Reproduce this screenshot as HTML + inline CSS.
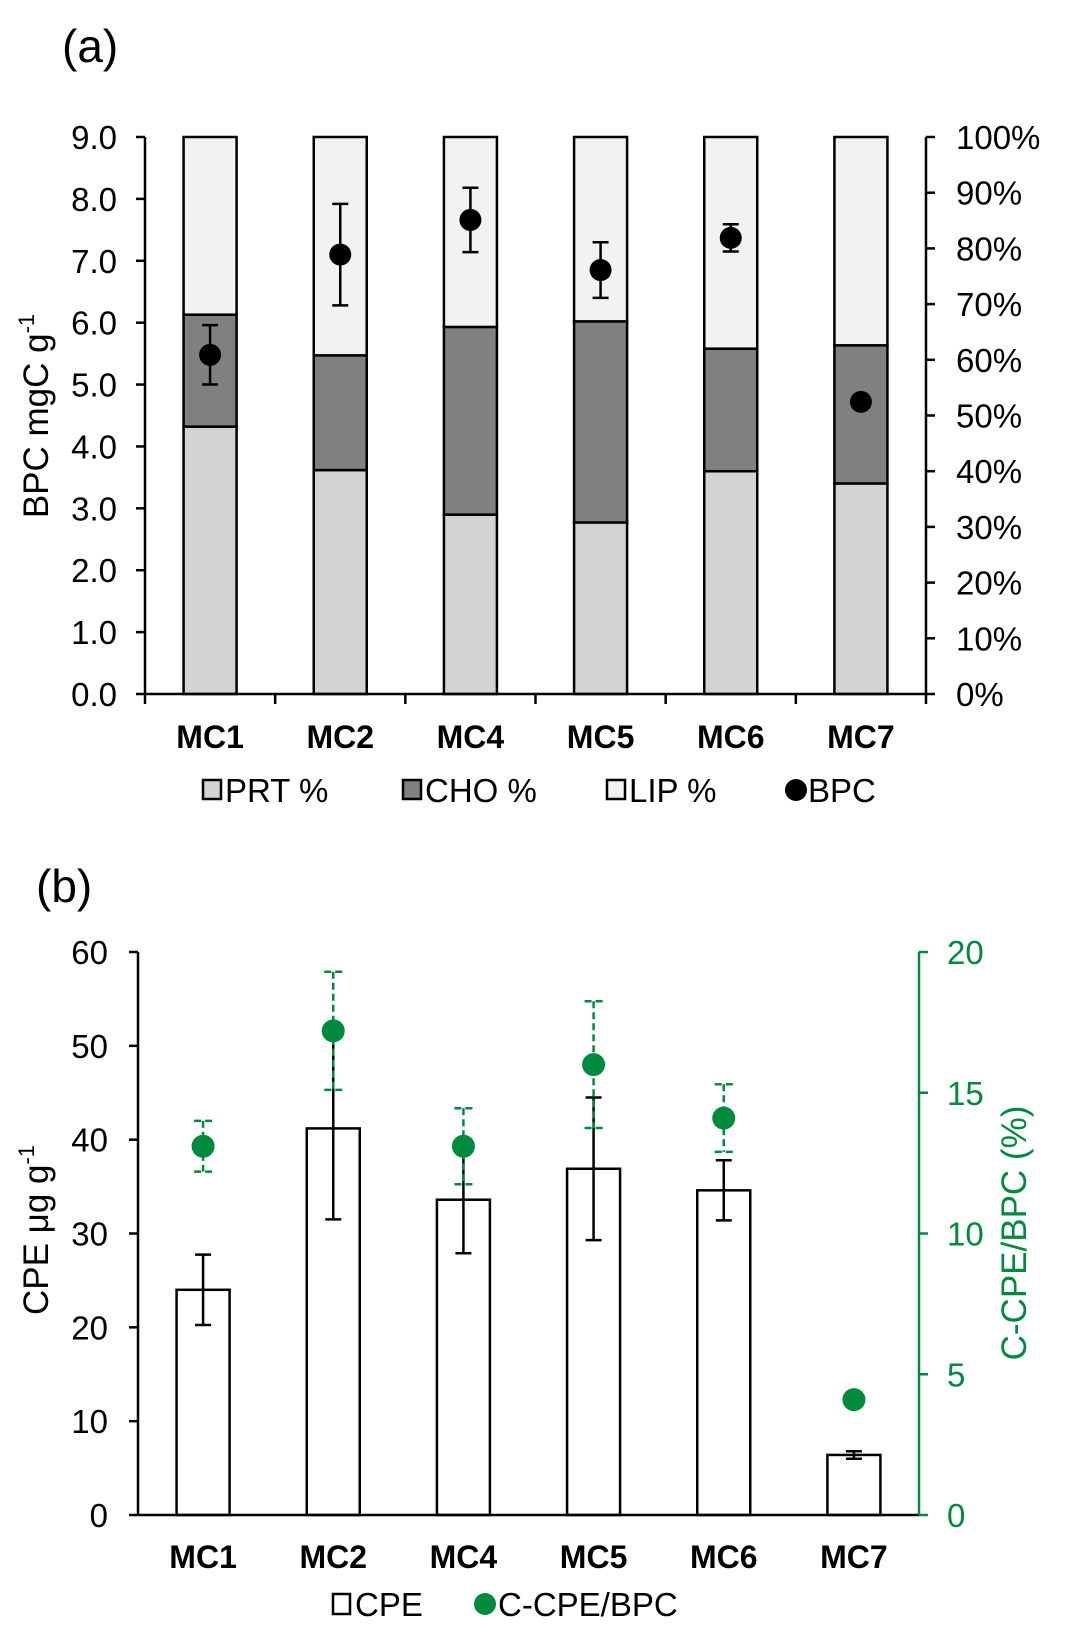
<!DOCTYPE html>
<html><head><meta charset="utf-8"><style>
html,body{margin:0;padding:0;background:#fff;}
svg{display:block;font-family:"Liberation Sans",Arial,sans-serif;}
</style></head><body>
<svg id="fig" width="1069" height="1644" viewBox="0 0 1069 1644">
<text x="62" y="62" font-size="46">(a)</text>
<text x="36" y="902" font-size="46">(b)</text>
<g id="ga"></g>
<g id="gb"></g>
</svg>
<script>
const cats = ["MC1","MC2","MC4","MC5","MC6","MC7"];
const prt = [48.0, 40.2, 32.2, 30.8, 40.0, 37.8];
const cho = [20.1, 20.6, 33.7, 36.1, 22.0, 24.8];
const bpc = [5.48, 7.10, 7.66, 6.85, 7.37, 4.72];
const bpcErr = [0.48, 0.82, 0.52, 0.45, 0.22, 0.0];
const leftTicksA = ["0.0","1.0","2.0","3.0","4.0","5.0","6.0","7.0","8.0","9.0"];
const rightTicksA = ["0%","10%","20%","30%","40%","50%","60%","70%","80%","90%","100%"];
const cpe = [24.0, 41.2, 33.6, 36.9, 34.6, 6.4];
const cpeErr = [3.75, 9.7, 5.7, 7.6, 3.2, 0.4];
const ratio = [13.1, 17.2, 13.1, 16.0, 14.1, 4.1];
const ratioErr = [0.9, 2.1, 1.35, 2.25, 1.2, 0.2];
const leftTicksB = ["0","10","20","30","40","50","60"];
const rightTicksB = ["0","5","10","15","20"];

const NS = "http://www.w3.org/2000/svg";
function mk(parent, tag, attrs, text){
  const e = document.createElementNS(NS, tag);
  for (const k in attrs) e.setAttribute(k, attrs[k]);
  if (text !== undefined) e.textContent = text;
  parent.appendChild(e);
  return e;
}
const GREEN = "#008a3e";
const TF = 33;

// ---------- Chart A ----------
(function(){
  const g = document.getElementById("ga");
  const L = 145, R = 926, T = 137, B = 694;
  const yL = v => B - v / 9 * (B - T);
  const yP = p => B - p / 100 * (B - T);
  const bw = (R - L) / cats.length;
  const xc = i => L + bw * (i + 0.5);
  const barW = 53;
  cats.forEach((c, i) => {
    const x0 = xc(i) - barW / 2;
    const s1 = prt[i], s2 = prt[i] + cho[i];
    let r = mk(g, "rect", {x:x0, y:yP(s1), width:barW, height:yP(0)-yP(s1), fill:"#d3d3d3", stroke:"#000", "stroke-width":2.5});
    
    
    r = mk(g, "rect", {x:x0, y:yP(s2), width:barW, height:yP(s1)-yP(s2), fill:"#808080", stroke:"#000", "stroke-width":2.5});
    
    
    r = mk(g, "rect", {x:x0, y:yP(100), width:barW, height:yP(s2)-yP(100), fill:"#f2f2f2", stroke:"#000", "stroke-width":2.5});
    
    
  });
  mk(g, "line", {x1:L, y1:T, x2:L, y2:B, stroke:"#000", "stroke-width":2.5});
  mk(g, "line", {x1:R, y1:T, x2:R, y2:B, stroke:"#000", "stroke-width":2.5});
  mk(g, "line", {x1:L, y1:B, x2:R, y2:B, stroke:"#000", "stroke-width":2.5});
  leftTicksA.forEach((t, i) => {
    const y = yL(i);
    mk(g, "line", {x1:L-9, y1:y, x2:L, y2:y, stroke:"#000", "stroke-width":2.5});
    const e = mk(g, "text", {x:L-28, y:y+12, "font-size":TF, "text-anchor":"end"}, t);
    
    
  });
  rightTicksA.forEach((t, i) => {
    const y = yP(i * 10);
    mk(g, "line", {x1:R, y1:y, x2:R+9, y2:y, stroke:"#000", "stroke-width":2.5});
    const e = mk(g, "text", {x:R+30, y:y+12, "font-size":TF}, t);
    
    
  });
  for (let i = 0; i <= cats.length; i++) {
    mk(g, "line", {x1:L+bw*i, y1:B, x2:L+bw*i, y2:B+10, stroke:"#000", "stroke-width":2.5});
  }
  cats.forEach((c, i) => {
    const e = mk(g, "text", {x:xc(i), y:748, "font-size":32, "font-weight":"bold", "text-anchor":"middle"}, c);
    
    
  });
  cats.forEach((c, i) => {
    const x = xc(i), y = yL(bpc[i]);
    if (bpcErr[i] > 0) {
      const y1 = yL(bpc[i] + bpcErr[i]), y2 = yL(bpc[i] - bpcErr[i]);
      mk(g, "line", {x1:x, y1:y1, x2:x, y2:y2, stroke:"#000", "stroke-width":2.5});
      mk(g, "line", {x1:x-8, y1:y1, x2:x+8, y2:y1, stroke:"#000", "stroke-width":2.5});
      mk(g, "line", {x1:x-8, y1:y2, x2:x+8, y2:y2, stroke:"#000", "stroke-width":2.5});
    }
    const p = mk(g, "circle", {cx:x, cy:y, r:11, fill:"#000"});
    
    
  });
  const yt = mk(g, "text", {x:0, y:0, "font-size":35, "text-anchor":"middle", transform:"translate(48,416) rotate(-90)"});
  
  
  yt.appendChild(document.createTextNode("BPC mgC g"));
  mk(yt, "tspan", {dy:-14, "font-size":22}, "-1");
  const lg = mk(g, "g", {});
  
  
  const items = [["PRT %","#d3d3d3",203],["CHO %","#808080",403],["LIP %","#f2f2f2",607]];
  items.forEach(it => {
    mk(lg, "rect", {x:it[2], y:780, width:18, height:19, fill:it[1], stroke:"#000", "stroke-width":2.5});
    const e = mk(lg, "text", {x:it[2]+22, y:802, "font-size":TF}, it[0]);
    
    
  });
  mk(lg, "circle", {cx:796, cy:790, r:11, fill:"#000"});
  const e = mk(lg, "text", {x:808, y:802, "font-size":TF}, "BPC");
  
  
})();

// ---------- Chart B ----------
(function(){
  const g = document.getElementById("gb");
  const L = 138, R = 919, T = 952, B = 1515;
  const yL = v => B - v / 60 * (B - T);
  const yR = v => B - v / 20 * (B - T);
  const bw = (R - L) / cats.length;
  const xc = i => L + bw * (i + 0.5);
  const barW = 53;
  cats.forEach((c, i) => {
    const r = mk(g, "rect", {x:xc(i)-barW/2, y:yL(cpe[i]), width:barW, height:B-yL(cpe[i]), fill:"#fff", stroke:"#000", "stroke-width":2.5});
    
    
  });
  cats.forEach((c, i) => {
    const x = xc(i);
    const y1 = yL(cpe[i] + cpeErr[i]), y2 = yL(cpe[i] - cpeErr[i]);
    mk(g, "line", {x1:x, y1:y1, x2:x, y2:y2, stroke:"#000", "stroke-width":2.5});
    mk(g, "line", {x1:x-8, y1:y1, x2:x+8, y2:y1, stroke:"#000", "stroke-width":2.5});
    mk(g, "line", {x1:x-8, y1:y2, x2:x+8, y2:y2, stroke:"#000", "stroke-width":2.5});
  });
  mk(g, "line", {x1:L, y1:T, x2:L, y2:B, stroke:"#000", "stroke-width":2.5});
  mk(g, "line", {x1:L, y1:B, x2:R, y2:B, stroke:"#000", "stroke-width":2.5});
  mk(g, "line", {x1:R, y1:T, x2:R, y2:B, stroke:GREEN, "stroke-width":2.5});
  leftTicksB.forEach((t, i) => {
    const y = yL(i * 10);
    mk(g, "line", {x1:L-9, y1:y, x2:L, y2:y, stroke:"#000", "stroke-width":2.5});
    const e = mk(g, "text", {x:L-30, y:y+12, "font-size":TF, "text-anchor":"end"}, t);
    
    
  });
  rightTicksB.forEach((t, i) => {
    const y = yR(i * 5);
    mk(g, "line", {x1:R, y1:y, x2:R+9, y2:y, stroke:GREEN, "stroke-width":2.5});
    const e = mk(g, "text", {x:R+28, y:y+12, "font-size":TF, fill:GREEN}, t);
    
    
  });
  cats.forEach((c, i) => {
    const e = mk(g, "text", {x:xc(i), y:1568, "font-size":32, "font-weight":"bold", "text-anchor":"middle"}, c);
    
    
  });
  cats.forEach((c, i) => {
    const x = xc(i), y = yR(ratio[i]);
    const y1 = yR(ratio[i] + ratioErr[i]), y2 = yR(ratio[i] - ratioErr[i]);
    const d = {stroke:GREEN, "stroke-width":2.5, "stroke-dasharray":"7,4"};
    mk(g, "line", Object.assign({x1:x, y1:y1, x2:x, y2:y2}, d));
    mk(g, "line", Object.assign({x1:x-9, y1:y1, x2:x+9, y2:y1}, d));
    mk(g, "line", Object.assign({x1:x-9, y1:y2, x2:x+9, y2:y2}, d));
    const p = mk(g, "circle", {cx:x, cy:y, r:11.5, fill:GREEN});
    
    
  });
  const yt = mk(g, "text", {x:0, y:0, "font-size":35, "text-anchor":"middle", transform:"translate(48,1230) rotate(-90)"});
  
  
  yt.appendChild(document.createTextNode("CPE μg g"));
  mk(yt, "tspan", {dy:-14, "font-size":22}, "-1");
  const yr = mk(g, "text", {x:0, y:0, "font-size":35, fill:GREEN, "text-anchor":"middle", transform:"translate(1026,1233) rotate(-90)"}, "C-CPE/BPC (%)");
  
  
  const lg = mk(g, "g", {});
  
  
  mk(lg, "rect", {x:333, y:1594, width:17, height:20, fill:"#fff", stroke:"#000", "stroke-width":2.5});
  let e = mk(lg, "text", {x:355, y:1616, "font-size":TF}, "CPE");
  
  
  mk(lg, "circle", {cx:485, cy:1604, r:11, fill:GREEN});
  e = mk(lg, "text", {x:498, y:1616, "font-size":TF}, "C-CPE/BPC");
  
  
})();
</script>
</body></html>
